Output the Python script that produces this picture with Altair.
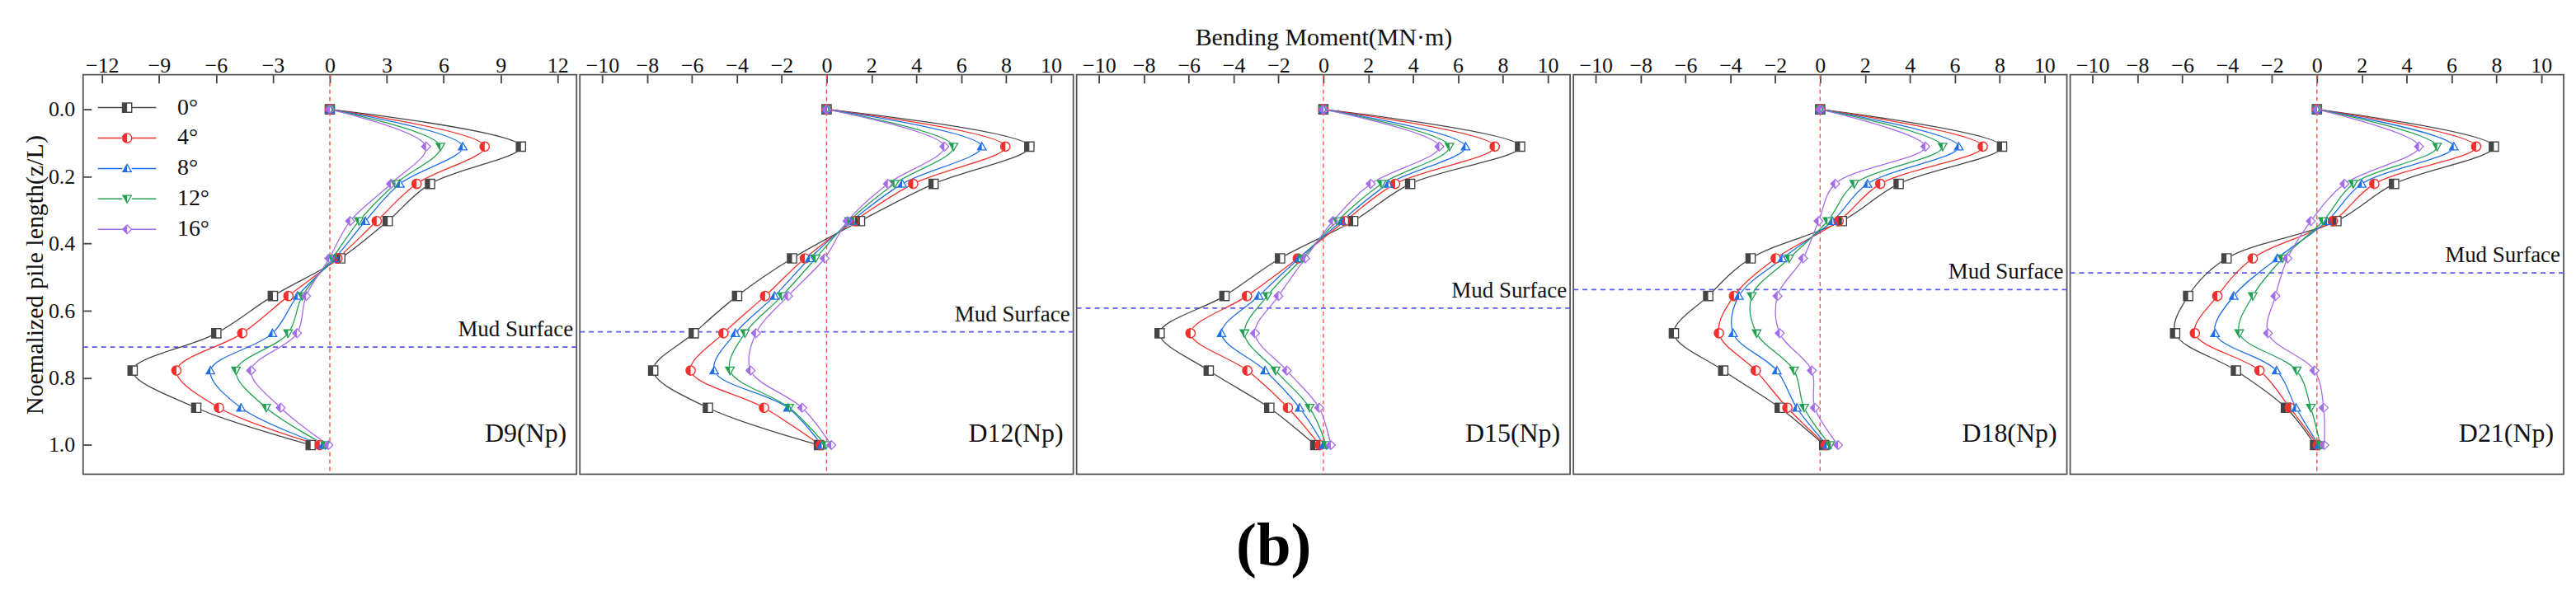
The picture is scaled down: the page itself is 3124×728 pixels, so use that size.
import altair as alt
import pandas as pd

FONT = "Liberation Serif, Times New Roman, serif"

ANGLES = ["0°", "4°", "8°", "12°", "16°"]
COLORS = ["#454545", "#f0302c", "#1f6ee6", "#22a052", "#a56ce8"]
Z = [0.0, 0.111, 0.222, 0.333, 0.444, 0.556, 0.667, 0.778, 0.889, 1.0]
PANELS = ["D9(Np)", "D12(Np)", "D15(Np)", "D18(Np)", "D21(Np)"]
MUD = [0.708, 0.663, 0.592, 0.537, 0.487]
MUD_LABEL = "Mud Surface"
X_TICKS_D9 = [-12, -9, -6, -3, 0, 3, 6, 9, 12]
X_TICKS = [-10, -8, -6, -4, -2, 0, 2, 4, 6, 8, 10]
Y_TICKS = [0.0, 0.2, 0.4, 0.6, 0.8, 1.0]
X_DOMAIN_D9 = [-13, 13]
X_DOMAIN = [-11, 11]
Y_DOMAIN = [-0.103, 1.087]

# rows: 0°, 4°, 8°, 12°, 16° ; columns follow Z
D9 = [
    [0, 10.07, 5.28, 3.05, 0.55, -3.00, -5.98, -10.39, -7.04, -1.01],
    [0, 8.16, 4.57, 2.47, 0.40, -2.18, -4.61, -8.08, -5.84, -0.53],
    [0, 7.00, 3.69, 1.87, 0.26, -1.70, -3.02, -6.29, -4.68, -0.36],
    [0, 5.83, 3.45, 1.53, 0.12, -1.45, -2.20, -4.94, -3.35, -0.24],
    [0, 5.07, 3.22, 1.07, -0.03, -1.25, -1.73, -4.15, -2.59, -0.07],
]
D12 = [
    [0, 9.04, 4.77, 1.49, -1.54, -3.99, -5.92, -7.73, -5.29, -0.34],
    [0, 7.97, 3.86, 1.23, -0.97, -2.74, -4.60, -6.06, -2.79, -0.27],
    [0, 6.92, 3.37, 1.11, -0.75, -2.32, -4.07, -5.01, -1.72, -0.22],
    [0, 5.66, 3.03, 1.00, -0.49, -1.99, -3.64, -4.31, -1.66, -0.04],
    [0, 5.25, 2.73, 0.93, -0.09, -1.72, -3.15, -3.39, -1.09, 0.21],
]
D15 = [
    [0, 8.77, 3.87, 1.33, -1.93, -4.41, -7.30, -5.11, -2.41, -0.36],
    [0, 7.64, 3.20, 0.96, -1.14, -3.41, -5.92, -3.39, -1.58, -0.16],
    [0, 6.34, 2.90, 0.81, -1.09, -2.88, -4.54, -2.60, -1.06, 0.01],
    [0, 5.62, 2.60, 0.61, -0.94, -2.50, -3.52, -2.13, -0.61, 0.13],
    [0, 5.17, 2.11, 0.43, -0.81, -2.00, -3.05, -1.63, -0.19, 0.33],
]
D18 = [
    [0, 8.11, 3.50, 0.97, -3.10, -4.99, -6.52, -4.32, -1.80, 0.18],
    [0, 7.25, 2.68, 0.82, -1.98, -3.84, -4.51, -2.87, -1.46, 0.25],
    [0, 6.18, 2.11, 0.55, -1.68, -3.62, -3.88, -1.93, -1.04, 0.30],
    [0, 5.46, 1.52, 0.33, -1.38, -3.05, -2.83, -1.16, -0.71, 0.45],
    [0, 4.69, 0.67, -0.07, -0.76, -1.90, -1.80, -0.37, -0.24, 0.80],
]
D21 = [
    [0, 7.89, 3.44, 0.87, -4.03, -5.74, -6.32, -3.61, -1.38, -0.08],
    [0, 7.10, 2.56, 0.71, -2.86, -4.44, -5.44, -2.56, -1.20, 0.03],
    [0, 6.10, 2.00, 0.45, -1.77, -3.71, -4.54, -1.80, -0.93, 0.08],
    [0, 5.36, 1.62, 0.27, -1.53, -2.86, -3.46, -0.90, -0.27, 0.15],
    [0, 4.55, 1.23, -0.27, -1.31, -1.85, -2.18, -0.11, 0.30, 0.33],
]
ALL = [D9, D12, D15, D18, D21]

# marker shapes (custom symbol paths in the -1..1 box)
SHAPE_FULL = [
    "M-1,-1L1,-1L1,1L-1,1Z",
    "M0,-1A1,1 0 0,1 0,1A1,1 0 0,1 0,-1Z",
    "M0,-1L1,0.75L-1,0.75Z",
    "M-1,-0.75L1,-0.75L0,1Z",
    "M0,-1L1,0L0,1L-1,0Z",
]
SHAPE_HALF = [
    "M-1,-1L0,-1L0,1L-1,1Z M0,-1L1,-1L1,1L0,1L0,0.78L0.78,0.78L0.78,-0.78L0,-0.78Z",
    "M0,-1A1,1 0 0,0 0,1Z M0,-1A1,1 0 0,1 0,1L0,0.78A0.78,0.78 0 0,0 0,-0.78Z",
    "M0,-1L0,0.75L-1,0.75Z M0,-1L1,0.75L0,0.75L0,0.55L0.65,0.55L0,-0.6Z",
    "M-1,-0.75L0,-0.75L0,1Z M0,-0.75L1,-0.75L0,1L0,0.6L0.65,-0.55L0,-0.55Z",
    "M0,-1L0,1L-1,0Z M0,-1L1,0L0,1L0,0.72L0.72,0L0,-0.72Z",
]
LEG_LINE = "M-5.6,-0.12L-0.9,-0.12L-0.9,0.12L-5.6,0.12Z M0.9,-0.12L5.6,-0.12L5.6,0.12L0.9,0.12Z "
SHAPE_LEGEND = [LEG_LINE + p for p in SHAPE_HALF]

W, H = 600, 486
MSIZE = 160


def make_panel(i):
    first = i == 0
    mat = ALL[i]
    rows = []
    for a, vals in zip(ANGLES, mat):
        for z, m in zip(Z, vals):
            rows.append({"angle": a, "z": z, "m": m})
    df = pd.DataFrame(rows)

    xs = alt.Scale(domain=X_DOMAIN_D9 if first else X_DOMAIN, nice=False, zero=False)
    ys = alt.Scale(domain=Y_DOMAIN, reverse=True, nice=False, zero=False)
    xaxis = alt.Axis(
        orient="top", values=X_TICKS_D9 if first else X_TICKS, tickSize=10, offset=-10,
        labelPadding=-2, domain=False, grid=False,
        title="Bending Moment(MN·m)" if i == 2 else None, titlePadding=6,
    )
    if first:
        yaxis = alt.Axis(
            orient="left", values=Y_TICKS, format=".1f", tickSize=10, offset=-10,
            labelPadding=10, domain=False, grid=False,
            title="Noemalized pile length(z/L)", titlePadding=1,
        )
    else:
        yaxis = None
    X = alt.X("m:Q", scale=xs, axis=xaxis)
    Y = alt.Y("z:Q", scale=ys, axis=yaxis)
    cscale = alt.Scale(domain=ANGLES, range=COLORS)

    zero = alt.Chart(pd.DataFrame({"m": [0.0]})).mark_rule(
        color="#ff4f4f", strokeDash=[5, 4], strokeWidth=1.4
    ).encode(x=X)
    mud = alt.Chart(pd.DataFrame({"z": [MUD[i]]})).mark_rule(
        color="#5a5af0", strokeDash=[6, 5], strokeWidth=1.8
    ).encode(y=Y)
    mudtxt = alt.Chart(pd.DataFrame({"z": [MUD[i]], "t": [MUD_LABEL]})).mark_text(
        align="right", baseline="alphabetic", dy=-13, fontSize=27, font=FONT, color="#111111"
    ).encode(y=Y, x=alt.value(W - 4), text="t:N")
    lines = alt.Chart(df).mark_line(interpolate="catmull-rom", strokeWidth=1.3).encode(
        x=X, y=Y, color=alt.Color("angle:N", scale=cscale, legend=None), order=alt.Order("z:Q")
    )
    white = alt.Chart(df).mark_point(filled=True, size=MSIZE, opacity=1, strokeWidth=0).encode(
        x=X, y=Y,
        shape=alt.Shape("angle:N", scale=alt.Scale(domain=ANGLES, range=SHAPE_FULL), legend=None),
        color=alt.value("white"),
    )
    marks = alt.Chart(df).mark_point(filled=True, size=MSIZE, opacity=1, strokeWidth=0).encode(
        x=X, y=Y,
        shape=alt.Shape("angle:N", scale=alt.Scale(domain=ANGLES, range=SHAPE_HALF), legend=None),
        color=alt.Color("angle:N", scale=cscale, legend=None),
    )
    label = alt.Chart(pd.DataFrame({"t": [PANELS[i]]})).mark_text(
        align="right", baseline="alphabetic", fontSize=32, font=FONT, color="#111111"
    ).encode(x=alt.value(W - 12), y=alt.value(446), text="t:N")

    layers = [zero, mud, lines, white, marks, mudtxt, label]
    if first:
        leg = dict(
            title=None, orient="none", legendX=20, legendY=26, padding=0,
            labelFont=FONT, labelFontSize=28, labelColor="#111111",
            symbolSize=MSIZE, symbolStrokeWidth=0, symbolOffset=19.5, labelOffset=47,
            rowPadding=9,
        )
        legl = alt.Chart(df).transform_filter("false").mark_point(
            filled=True, size=MSIZE, opacity=1, strokeWidth=0
        ).encode(
            x=X, y=Y,
            shape=alt.Shape("angle:N", scale=alt.Scale(domain=ANGLES, range=SHAPE_LEGEND),
                            legend=alt.Legend(**leg)),
            color=alt.Color("angle:N", scale=alt.Scale(domain=ANGLES, range=COLORS),
                            legend=alt.Legend(**leg)),
        )
        layers.append(legl)
    return alt.layer(*layers).resolve_scale(color="independent", shape="independent").properties(
        width=W, height=H
    )


panels = [make_panel(i) for i in range(5)]
chart = alt.hconcat(
    *panels, spacing=0,
    title=alt.TitleParams(
        text="(b)", orient="bottom", anchor="middle", fontSize=75, fontWeight="bold",
        font=FONT, offset=50, dx=-24, color="#000000",
    ),
).resolve_scale(
    x="independent", y="independent", color="independent", shape="independent"
).properties(
    padding={"left": 18, "top": 21, "right": 5, "bottom": 5}
).configure_view(
    stroke="#555555", strokeWidth=1.8
).configure_axis(
    labelFont=FONT, titleFont=FONT, labelFontSize=26, titleFontSize=30,
    tickColor="#444444", tickWidth=1.8, labelColor="#111111", titleColor="#111111",
    titleFontWeight="normal",
)

chart.save("out.html", embed_options={"renderer": "svg", "actions": False})
